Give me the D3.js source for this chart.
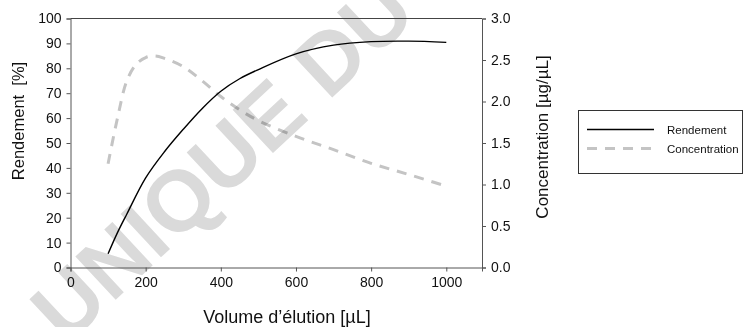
<!DOCTYPE html>
<html>
<head>
<meta charset="utf-8">
<script src="https://cdn.jsdelivr.net/npm/d3@7"></script>
<style>
  body { margin: 0; background: #fff; }
  svg { font-family: "Liberation Sans", Arial, Helvetica, sans-serif; }
</style>
</head>
<body>
<div id="chart"></div>
<script>
// Volume d'élution [µL]
const volumes = [100, 125, 150, 200, 250, 300, 350, 400, 450, 500, 600, 700, 800, 900, 1000];
// Rendement [%]
const rendement = [5.5, 14, 21.5, 36, 46.5, 55.5, 63.8, 70.8, 75.8, 79.5, 85.8, 89.3, 90.7, 90.9, 90.4];

const concVolumes = [100, 125, 150, 175, 200, 225, 250, 300, 350, 400, 450, 500, 600, 700, 800, 900, 1000];
// Concentration [µg/µL]
const concentration = [1.25, 1.8, 2.25, 2.45, 2.53, 2.55, 2.52, 2.42, 2.25, 2.06, 1.9, 1.77, 1.58, 1.42, 1.255, 1.12, 0.98];

const xTicks = [0, 200, 400, 600, 800, 1000];
const yLeftTicks = [0, 10, 20, 30, 40, 50, 60, 70, 80, 90, 100];
const yRightTicks = [0, 0.5, 1.0, 1.5, 2.0, 2.5, 3.0];

const width = 743, height = 327;
const plotLeft = 70.5, plotRight = 482, plotTop = 18.5, plotBottom = 267.5;

const svg = d3.select('#chart').append('svg')
  .attr('width', width)
  .attr('height', height);

// watermark
svg.append('text')
  .attr('transform', 'translate(66,346) rotate(-43)')
  .attr('font-size', 86)
  .attr('font-weight', 'bold')
  .attr('fill', '#dadada')
  .text('UNIQUE DU');

const x = d3.scaleLinear().domain([0, 1095]).range([plotLeft, plotRight]);
const yL = d3.scaleLinear().domain([0, 100]).range([plotBottom, plotTop]);
const yR = d3.scaleLinear().domain([0, 3]).range([plotBottom, plotTop]);

// top frame line
svg.append('line')
  .attr('x1', plotLeft).attr('x2', plotRight)
  .attr('y1', plotTop).attr('y2', plotTop)
  .attr('stroke', '#444').attr('stroke-width', 1);

const xAxis = svg.append('g')
  .attr('transform', `translate(0,${plotBottom})`)
  .call(d3.axisBottom(x).tickValues(xTicks).tickSize(4).tickPadding(6).tickFormat(d3.format('d')));

const yAxisL = svg.append('g')
  .attr('transform', `translate(${plotLeft},0)`)
  .call(d3.axisLeft(yL).tickValues(yLeftTicks).tickSize(4).tickPadding(5).tickFormat(d3.format('d')));

const yAxisR = svg.append('g')
  .attr('transform', `translate(${plotRight},0)`)
  .call(d3.axisRight(yR).tickValues(yRightTicks).tickSize(4).tickPadding(5).tickFormat(d3.format('.1f')));

[xAxis, yAxisL, yAxisR].forEach(g => {
  g.select('.domain').attr('stroke', '#555');
  g.selectAll('.tick line').attr('stroke', '#555');
  g.selectAll('.tick text').attr('font-size', 14).attr('fill', '#111')
    .attr('font-family', '"Liberation Sans", Arial, sans-serif');
});

// lines
const lineR = d3.line()
  .x((d, i) => x(volumes[i]))
  .y(d => yL(d))
  .curve(d3.curveCatmullRom.alpha(0.5));

const lineC = d3.line()
  .x((d, i) => x(concVolumes[i]))
  .y(d => yR(d))
  .curve(d3.curveCatmullRom.alpha(0.5));

svg.append('path')
  .datum(concentration)
  .attr('d', lineC)
  .attr('fill', 'none')
  .attr('stroke', '#c4c4c4')
  .attr('stroke-width', 3)
  .attr('stroke-dasharray', '10,8')
  .style('mix-blend-mode', 'multiply');

svg.append('path')
  .datum(rendement)
  .attr('d', lineR)
  .attr('fill', 'none')
  .attr('stroke', '#000')
  .attr('stroke-width', 1.4);

// axis titles
svg.append('text')
  .attr('transform', 'translate(24,121) rotate(-90)')
  .attr('text-anchor', 'middle')
  .attr('font-size', 16.5)
  .attr('fill', '#111')
  .attr('xml:space', 'preserve')
  .text('Rendement  [%]');

svg.append('text')
  .attr('transform', 'translate(548,137) rotate(-90)')
  .attr('text-anchor', 'middle')
  .attr('font-size', 17)
  .attr('fill', '#111')
  .text('Concentration [µg/µL]');

svg.append('text')
  .attr('x', 287).attr('y', 323)
  .attr('text-anchor', 'middle')
  .attr('font-size', 18)
  .attr('fill', '#111')
  .text('Volume d’élution [µL]');

// legend
const legend = svg.append('g');
legend.append('rect')
  .attr('x', 578.5).attr('y', 110.5)
  .attr('width', 164).attr('height', 63)
  .attr('fill', '#fff')
  .attr('stroke', '#333');

const legendItems = [
  { name: 'Rendement', stroke: '#000', w: 1.4, dash: null, y: 129.5 },
  { name: 'Concentration', stroke: '#c4c4c4', w: 3, dash: '10,8', y: 148.5 }
];
legendItems.forEach(d => {
  legend.append('line')
    .attr('x1', 587).attr('x2', 654)
    .attr('y1', d.y).attr('y2', d.y)
    .attr('stroke', d.stroke)
    .attr('stroke-width', d.w)
    .attr('stroke-dasharray', d.dash);
  legend.append('text')
    .attr('x', 667).attr('y', d.y + 4.5)
    .attr('font-size', 11.5)
    .attr('fill', '#111')
    .text(d.name);
});
</script>
</body>
</html>
